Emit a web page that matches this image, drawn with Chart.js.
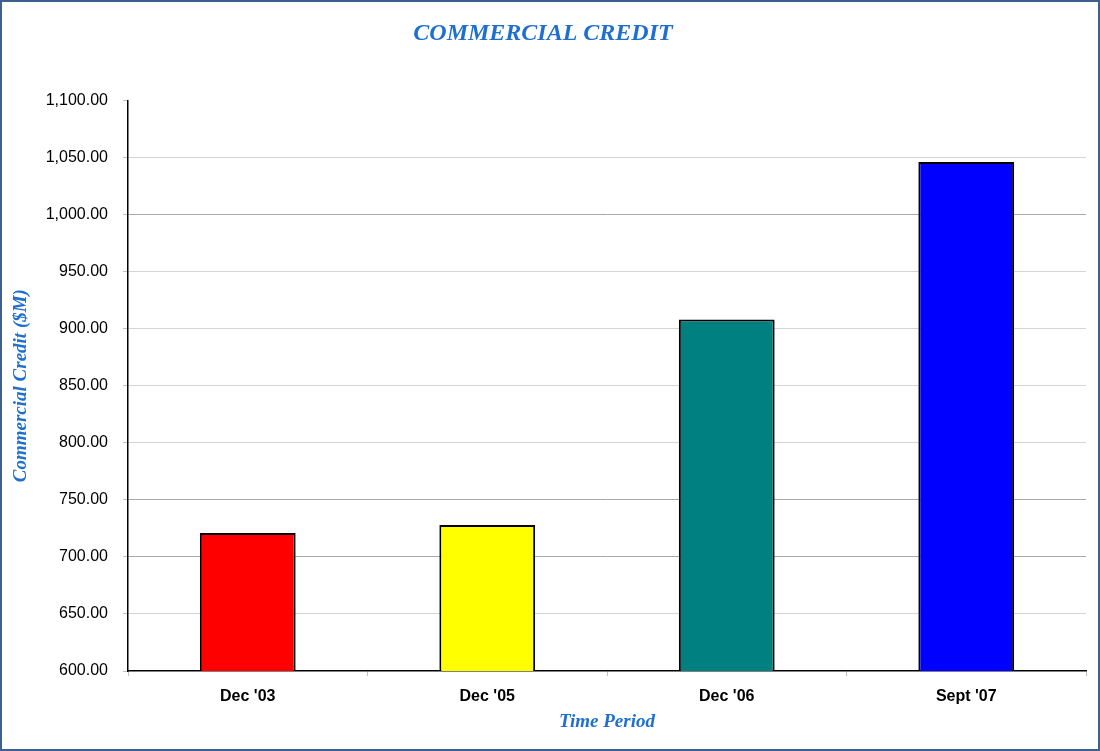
<!DOCTYPE html>
<html>
<head>
<meta charset="utf-8">
<script src="https://cdn.jsdelivr.net/npm/chart.js@4"></script>
<style>
  html, body { margin: 0; padding: 0; background: #fff; }
  #wrap { width: 1100px; height: 751px; position: relative; }
</style>
</head>
<body>
<div id="wrap"><canvas id="creditChart" width="1100" height="751"></canvas></div>
<script>
const periods = ["Dec '03", "Dec '05", "Dec '06", "Sept '07"];
const credit = [721, 728, 908, 1046];
const barColors = ["#ff0000", "#ffff00", "#008080", "#0000ff"];
const yMin = 600;
const yMax = 1100;
const yStep = 50;

const blueText = "#1f6fd1";

// frame around the whole picture
const framePlugin = {
  id: "frame",
  afterDraw(chart) {
    const c = chart.ctx;
    c.save();
    c.strokeStyle = "#3d6090";
    c.lineWidth = 2;
    c.strokeRect(1, 1, chart.width - 2, chart.height - 2);
    c.restore();
  },
};

new Chart(document.getElementById("creditChart"), {
  type: "bar",
  data: {
    labels: periods,
    datasets: [
      {
        label: "Commercial Credit",
        data: credit,
        backgroundColor: barColors,
        borderColor: "#000",
        borderWidth: 2,
        categoryPercentage: 1,
        barPercentage: 0.4,
      },
    ],
  },
  options: {
    responsive: false,
    animation: false,
    layout: { padding: { top: 0, right: 14, bottom: 0, left: 0 } },
    plugins: {
      legend: { display: false },
      tooltip: { enabled: false },
      title: {
        display: true,
        text: "COMMERCIAL CREDIT",
        color: blueText,
        font: { family: "Liberation Serif", size: 24, style: "italic", weight: "bold" },
        padding: { top: 19, bottom: 52.5 },
      },
    },
    scales: {
      x: {
        grid: {
          offset: true,
          drawOnChartArea: false,
          drawTicks: true,
          tickLength: 5,
          tickColor: "#c0c0c0",
        },
        border: { color: "#000", width: 1.5 },
        ticks: {
          color: "#000",
          padding: 11,
          font: { family: "Liberation Sans", size: 16, weight: "bold" },
        },
        title: {
          display: true,
          text: "Time Period",
          color: blueText,
          font: { family: "Liberation Serif", size: 19, style: "italic", weight: "bold" },
          padding: { top: 0, bottom: 18 },
        },
        afterFit(scale) {
          scale.height = 80;
        },
      },
      y: {
        min: yMin,
        max: yMax,
        grid: {
          color: (ctx) => {
            const v = ctx.tick && ctx.tick.value;
            if (v === yMax || v === yMin) return "rgba(0,0,0,0)";
            if (v === 1000 || v === 750 || v === 700) return "#a8a8a8";
            return "#d4d4d4";
          },
          tickColor: "#c0c0c0",
          tickLength: 5,
        },
        border: { color: "#000", width: 1.5 },
        ticks: {
          stepSize: yStep,
          color: "#000",
          padding: 15,
          font: { family: "Liberation Sans", size: 16 },
          callback: (v) =>
            Number(v).toLocaleString("en-US", {
              minimumFractionDigits: 2,
              maximumFractionDigits: 2,
            }),
        },
        title: {
          display: true,
          text: "Commercial Credit ($M)",
          color: blueText,
          font: { family: "Liberation Serif", size: 19, style: "italic", weight: "bold" },
          padding: { top: 10, bottom: 0 },
        },
        afterFit(scale) {
          scale.width = 128;
        },
      },
    },
  },
  plugins: [framePlugin],
});
</script>
</body>
</html>
